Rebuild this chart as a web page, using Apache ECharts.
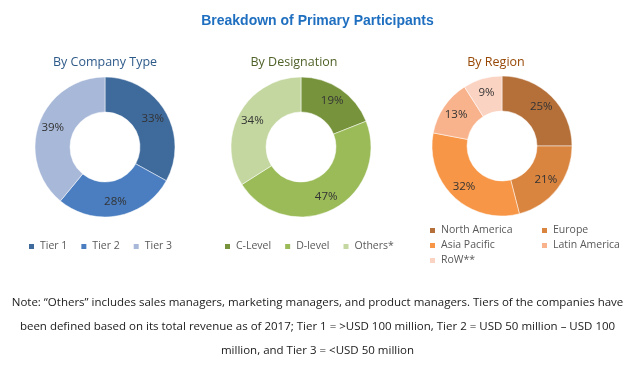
<!DOCTYPE html>
<html><head><meta charset="utf-8">
<script src="https://cdn.jsdelivr.net/npm/echarts@6/dist/echarts.min.js"></script>
<style>html,body{margin:0;padding:0;background:#fff}#c{width:635px;height:374px}</style>
</head><body><div id="c"></div>
<script>
const companyCats = ['Tier 1', 'Tier 2', 'Tier 3'];
const companyVals = [33, 28, 39];
const companyColors = ['#3f6a9c', '#4a7ec0', '#a8b8d8'];

const designationCats = ['C-Level', 'D-level', 'Others*'];
const designationVals = [19, 47, 34];
const designationColors = ['#77943d', '#9bbb59', '#c4d7a0'];

const regionCats = ['North America', 'Europe', 'Asia Pacific', 'Latin America', 'RoW**'];
const regionVals = [25, 21, 32, 13, 9];
const regionColors = ['#b5703a', '#d9843f', '#f79646', '#f8b38d', '#fbd3c2'];

const noteLines = [
  'Note: \u201cOthers\u201d includes sales managers, marketing managers, and product managers. Tiers of the companies have',
  'been defined based on its total revenue as of 2017; Tier 1 = >USD 100 million, Tier 2 = USD 50 million \u2013 USD 100',
  'million, and Tier 3 = <USD 50 million'
];

const FONT = '"Open Sans", "Noto Sans", sans-serif';
function mk(cats, vals) { return cats.map((n, i) => ({ name: n, value: vals[i] })); }
function pie(cats, vals, colors, center) {
  return {
    type: 'pie', center: center, radius: [35, 70], startAngle: 90, clockwise: true,
    avoidLabelOverlap: false,
    data: mk(cats, vals),
    itemStyle: { color: p => colors[p.dataIndex], borderColor: '#fff', borderWidth: 0.5 },
    label: { position: 'inside', formatter: '{c}%', color: '#333', fontSize: 11.5, fontFamily: FONT },
    labelLine: { show: false }, emphasis: { disabled: true }, silent: true
  };
}
const legendBase = {
  itemWidth: 7, itemHeight: 7, icon: 'rect', padding: 0,
  textStyle: { color: '#595959', fontSize: 10.5, fontFamily: FONT }, selectedMode: false
};
const chart = echarts.init(document.getElementById('c'), null, { renderer: 'canvas' });
chart.setOption({
  animation: false,
  title: [
    { text: 'Breakdown of Primary Participants', left: 'center', top: 9,
      textStyle: { color: '#1f6fc0', fontSize: 14, fontWeight: 'bold', fontFamily: '"Liberation Sans", Arial, sans-serif' } },
    { text: 'By Company Type', left: 100, textAlign: 'center', top: 51,
      textStyle: { color: '#2e5a8a', fontSize: 12.5, fontWeight: 'normal', fontFamily: FONT } },
    { text: 'By Designation', left: 289, textAlign: 'center', top: 51,
      textStyle: { color: '#4f6228', fontSize: 12.5, fontWeight: 'normal', fontFamily: FONT } },
    { text: 'By Region', left: 491, textAlign: 'center', top: 51,
      textStyle: { color: '#974806', fontSize: 12.5, fontWeight: 'normal', fontFamily: FONT } }
  ],
  legend: [
    Object.assign({}, legendBase, { data: companyCats, left: 27, top: 241, itemGap: 12 }),
    Object.assign({}, legendBase, { data: designationCats, left: 223, top: 241, itemGap: 12 }),
    Object.assign({}, legendBase, { data: ['North America', 'Asia Pacific', 'RoW**'], orient: 'vertical', left: 428, top: 225, itemGap: 4 }),
    Object.assign({}, legendBase, { data: ['Europe', 'Latin America'], orient: 'vertical', left: 540, top: 225, itemGap: 4 })
  ],
  series: [
    pie(companyCats, companyVals, companyColors, [105, 147]),
    pie(designationCats, designationVals, designationColors, [301, 147]),
    pie(regionCats, regionVals, regionColors, [502, 146])
  ],
  graphic: noteLines.map((t, i) => ({
    type: 'text', left: 'center', top: 297 + i * 24,
    style: { text: t, fill: '#1a1a1a', fontSize: 11.5, fontFamily: FONT }
  }))
});
</script></body></html>
